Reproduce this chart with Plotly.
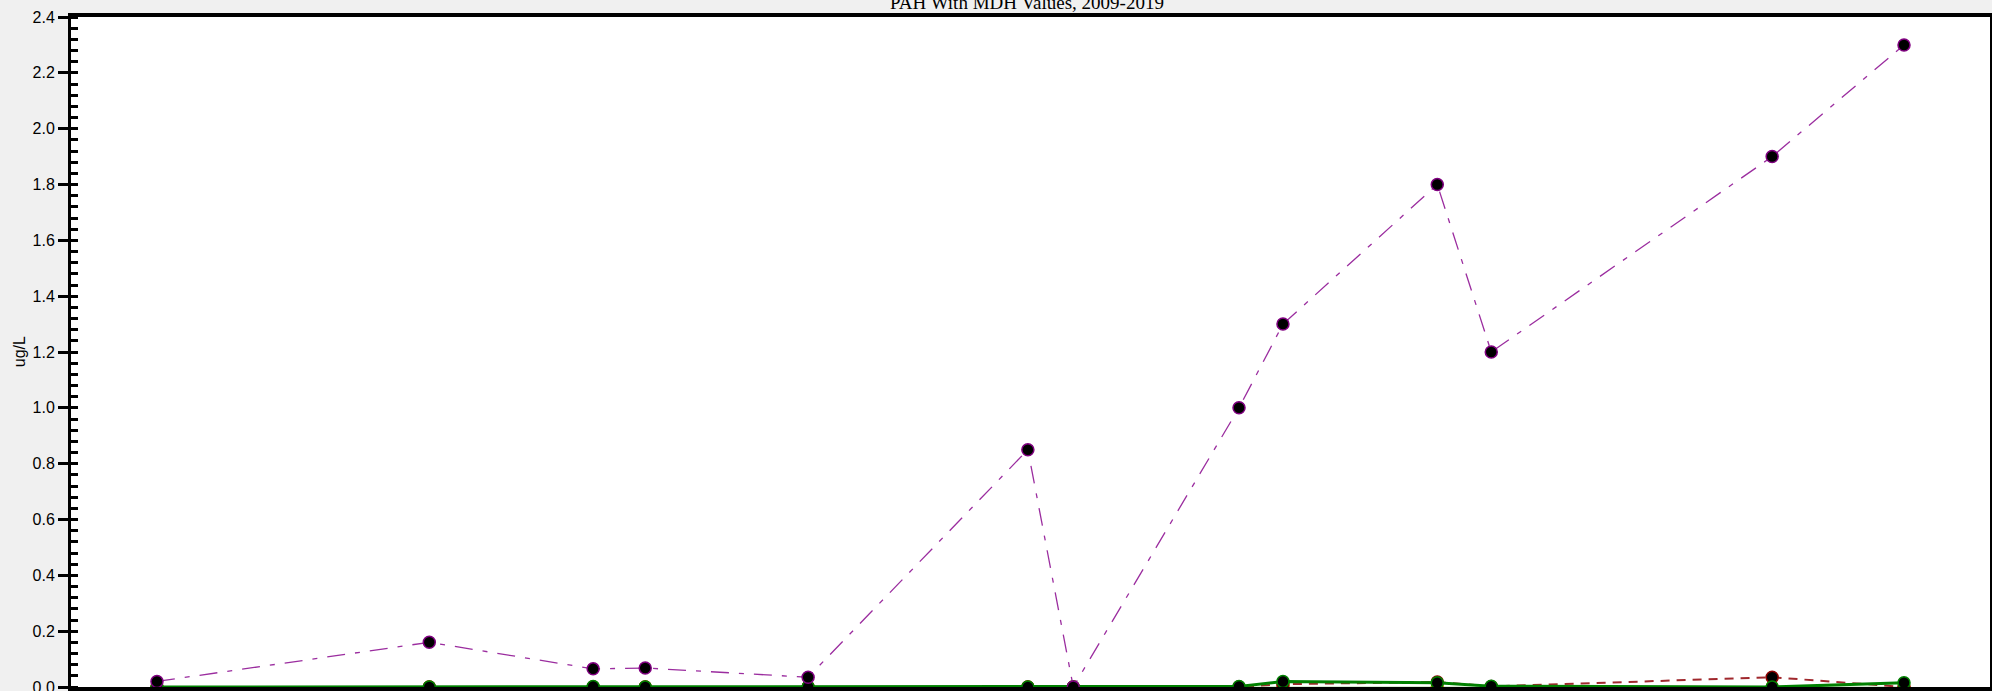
import plotly.graph_objects as go

# Sampling dates and measured concentrations (ug/L)
sample_dates = [
    "2009-06-30", "2011-01-21", "2011-12-30", "2012-04-17", "2013-03-24",
    "2014-06-27", "2014-09-30", "2015-09-12", "2015-12-13", "2016-10-31",
    "2017-02-21", "2018-10-02", "2019-07-05",
]
total_pah = [0.02, 0.16, 0.065, 0.068, 0.035, 0.85, 0.0, 1.0, 1.3, 1.8, 1.2, 1.9, 2.3]
green_series = [0.0, 0.0, 0.002, 0.0, 0.0, 0.0, 0.0, 0.002, 0.02, 0.015, 0.003, 0.0, 0.015]
red_series = [0.0, 0.0, 0.0, 0.0, 0.0, 0.0, 0.0, 0.0, 0.01, 0.018, 0.002, 0.035, 0.0]
olive_series = [0.0] * 13

y_ticks = [0.0, 0.2, 0.4, 0.6, 0.8, 1.0, 1.2, 1.4, 1.6, 1.8, 2.0, 2.2, 2.4]
y_tick_text = [f"{v:.1f}" for v in y_ticks]

fig = go.Figure()

fig.add_trace(go.Scatter(
    x=sample_dates, y=olive_series, mode="lines+markers",
    line=dict(color="#b5d9a8", width=1),
    marker=dict(size=12, color="black", line=dict(color="#b59a00", width=1.5)),
    showlegend=False,
))
fig.add_trace(go.Scatter(
    x=sample_dates, y=red_series, mode="lines+markers",
    line=dict(color="#a0282d", width=2, dash="9px,7px"),
    marker=dict(size=12, color="black", line=dict(color="#8b0000", width=1.5)),
    showlegend=False,
))
fig.add_trace(go.Scatter(
    x=sample_dates, y=green_series, mode="lines+markers",
    line=dict(color="#008000", width=3),
    marker=dict(size=12, color="black", line=dict(color="#008000", width=1.5)),
    showlegend=False,
))
fig.add_trace(go.Scatter(
    x=sample_dates, y=total_pah, mode="lines+markers",
    line=dict(color="#9b2d9f", width=1.3, dash="18px,10px,5px,10px"),
    marker=dict(size=12, color="black", line=dict(color="#800080", width=1.5)),
    showlegend=False,
))
# helper trace so the overlay axis (inner half of major ticks) is drawn
fig.add_trace(go.Scatter(
    x=[sample_dates[0]], y=[0], yaxis="y2", mode="markers",
    marker=dict(opacity=0), hoverinfo="skip", showlegend=False,
))

axis_font = dict(family="Liberation Sans, Arial, sans-serif", size=16, color="black")

fig.update_layout(
    width=1992, height=691,
    margin=dict(l=71, r=2, t=17, b=4, autoexpand=False),
    paper_bgcolor="#f0f0f0",
    plot_bgcolor="white",
    xaxis=dict(
        type="date", range=["2009-01-01", "2020-01-01"], automargin=False,
        showgrid=False, zeroline=False, showticklabels=False, ticks="",
        showline=True, linecolor="black", linewidth=4, mirror=True,
    ),
    yaxis=dict(
        range=[0, 2.4], tickvals=y_ticks, ticktext=y_tick_text, automargin=False,
        ticks="outside", ticklen=10, tickwidth=3, tickcolor="black",
        tickfont=axis_font, ticklabeloverflow="allow",
        showgrid=False, zeroline=False,
        showline=True, linecolor="black", linewidth=3, mirror=True,
        minor=dict(ticks="inside", ticklen=7, tickwidth=3, tickcolor="black",
                   dtick=0.04, tick0=0, showgrid=False),
    ),
    yaxis2=dict(
        range=[0, 2.4], overlaying="y", side="left", tickvals=y_ticks, automargin=False,
        ticks="inside", ticklen=7, tickwidth=3, tickcolor="black",
        showticklabels=False, showgrid=False, zeroline=False, showline=False,
    ),
    annotations=[
        dict(text="PAH With MDH Values, 2009-2019", xref="paper", yref="paper",
             x=0.498, y=1, yshift=15, xanchor="center", yanchor="middle",
             showarrow=False,
             font=dict(family="Liberation Serif, Times New Roman, serif", size=19, color="black")),
        dict(text="ug/L", xref="paper", yref="paper", x=-0.027, y=0.5,
             xanchor="center", yanchor="middle", textangle=-90, showarrow=False,
             font=axis_font),
    ],
)

fig.write_html("out.html")
